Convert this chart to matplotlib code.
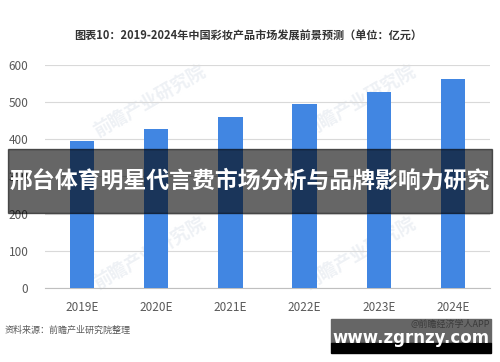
import matplotlib.pyplot as plt
from matplotlib.patches import Rectangle

plt.rcParams['font.family'] = ['Noto Sans CJK SC', 'DejaVu Sans']

# chart data
years = ["2019E", "2020E", "2021E", "2022E", "2023E", "2024E"]
market = [395, 427, 460, 494, 527, 561]
yticks = [0, 100, 200, 300, 400, 500, 600]

title = "图表10：2019-2024年中国彩妆产品市场发展前景预测（单位：亿元）"
source = "资料来源：前瞻产业研究院整理"
banner = "邢台体育明星代言费市场分析与品牌影响力研究"
site = "www.zgrnzy.com"

fig = plt.figure(figsize=(5, 3.62), dpi=100)
ax = fig.add_axes([0.09, 0.2044, 0.89, 0.617], zorder=1)
ax.patch.set_alpha(0)

x = range(len(years))
ax.bar(x, market, width=0.33, color="#4186e2", zorder=3)
ax.set_xlim(-0.5, len(years) - 0.5)
ax.set_ylim(0, 600)
ax.set_yticks(yticks)
ax.set_xticks(list(x))
ax.set_xticklabels(years)
ax.grid(axis="y", color="#d9d9d9", linewidth=0.8, zorder=0)
for s in ["top", "right", "left"]:
    ax.spines[s].set_visible(False)
ax.spines["bottom"].set_color("#bfbfbf")
ax.tick_params(length=0, colors="#595959", labelsize=8.5)
ax.tick_params(axis="x", pad=9)
ax.tick_params(axis="y", pad=12)

# faint watermark behind the plot
for wx, wy in [(0.3, 0.72), (0.72, 0.72), (0.3, 0.3), (0.72, 0.3)]:
    fig.text(wx, wy, "前瞻产业研究院", fontsize=13, rotation=30, color="#eef1f5",
             ha="center", va="center", zorder=0, fontweight="bold")

fig.text(0.496, 0.903, title, ha="center", va="center", fontsize=8,
         fontweight="bold", color="#333333", zorder=2)
fig.text(0.01, 0.088, source, ha="left", va="center", fontsize=6.5,
         color="#595959", style="italic", zorder=2)

# dark banner across the middle
fig.patches.append(Rectangle((0.016, 1 - 212.7 / 362), 0.967, 63.7 / 362,
                             transform=fig.transFigure, color="black", alpha=0.6,
                             zorder=5))
fig.text(0.5, 1 - 181 / 362, banner, ha="center", va="center", fontsize=16.5,
         fontweight="bold", color="white", zorder=6)

# site box bottom right
fig.patches.append(Rectangle((331 / 500, 1 - 343 / 362), 160 / 500, 24 / 362,
                             transform=fig.transFigure, color="#666666", zorder=5))
fig.patches.append(Rectangle((331 / 500, 1 - 353 / 362), 160 / 500, 10 / 362,
                             transform=fig.transFigure, color="black", zorder=5))
fig.text(0.98, 1 - 324 / 362, "@前瞻经济学人APP", ha="right", va="center",
         fontsize=6.5, color="#3a3a3a", zorder=6)
fig.text(0.822, 1 - 338 / 362, site, ha="center", va="center", fontsize=12,
         fontweight="bold", color="white", family="DejaVu Sans", zorder=7)

fig.savefig("out.png", dpi=100)
